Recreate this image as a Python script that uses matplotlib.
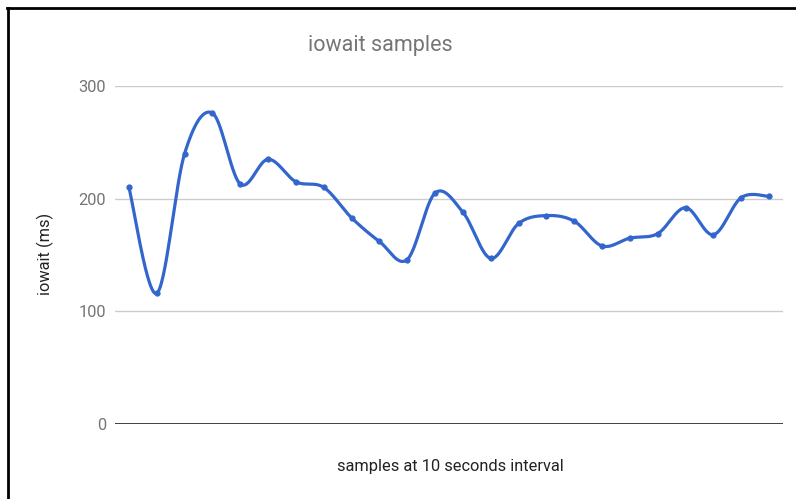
import numpy as np
import matplotlib
matplotlib.use("Agg")
import matplotlib.pyplot as plt
from matplotlib.lines import Line2D

plt.rcParams['font.family'] = ['Roboto', 'DejaVu Sans']

# data
values = [210, 116, 240, 276, 213, 235, 215, 210, 183, 162, 146, 205,
          188, 147, 178, 185, 180, 158, 165, 169, 192, 168, 201, 202]
yticks = [0, 100, 200, 300]
title = "iowait samples"
xlabel = "samples at 10 seconds interval"
ylabel = "iowait (ms)"

x = np.arange(len(values), dtype=float)
y = np.array(values, dtype=float)

def catmull_rom(xs, ys, n=30, tension=0.5):
    px = np.concatenate([[xs[0]], xs, [xs[-1]]])
    py = np.concatenate([[ys[0]], ys, [ys[-1]]])
    ox, oy = [], []
    for i in range(1, len(px) - 2):
        t = np.linspace(0, 1, n, endpoint=False)
        p0, p1, p2, p3 = py[i-1], py[i], py[i+1], py[i+2]
        q0, q1, q2, q3 = px[i-1], px[i], px[i+1], px[i+2]
        m1y = tension * (p2 - p0); m2y = tension * (p3 - p1)
        m1x = tension * (q2 - q0); m2x = tension * (q3 - q1)
        h00 = 2*t**3 - 3*t**2 + 1
        h10 = t**3 - 2*t**2 + t
        h01 = -2*t**3 + 3*t**2
        h11 = t**3 - t**2
        ox.append(h00*q1 + h10*m1x + h01*q2 + h11*m2x)
        oy.append(h00*p1 + h10*m1y + h01*p2 + h11*m2y)
    ox.append([xs[-1]]); oy.append([ys[-1]])
    return np.concatenate(ox), np.concatenate(oy)

sx, sy = catmull_rom(x, y)

fig = plt.figure(figsize=(7.96, 4.99), dpi=100)
ax = fig.add_axes([115/796, 1 - 424/499, 668/796, 338/499])

ax.set_xlim(-0.5, len(values) - 0.5)
ax.set_ylim(0, 300)
ax.set_yticks(yticks)
ax.set_yticklabels([str(v) for v in yticks])
ax.set_xticks([])
ax.grid(axis='y', color='#cccccc', linewidth=1)
ax.set_axisbelow(True)
for s in ['top', 'right', 'left', 'bottom']:
    ax.spines[s].set_visible(False)
ax.axhline(0, color='#333333', linewidth=1.3, zorder=2)
ax.tick_params(axis='y', length=0, pad=6.5, labelsize=11.8, labelcolor='#757575')

ax.plot(sx, sy, color='#3366cc', linewidth=2.3, solid_capstyle='round', zorder=3)
ax.plot(x, y, 'o', color='#3366cc', markersize=3.5, zorder=4)

fig.text(380/796, 1 - 46/499, title, ha='center', va='center',
         fontsize=15.5, color='#757575')
fig.text(450/796, 1 - 466/499, xlabel, ha='center', va='center',
         fontsize=11.8, color='#222222')
fig.text(45/796, 1 - 254/499, ylabel, ha='center', va='center',
         rotation=90, fontsize=11.8, color='#222222')

# figure border (left and top)
fig.add_artist(Line2D([8/796, 8/796], [0, 1 - 7.5/499], color='black',
                      linewidth=2, transform=fig.transFigure))
fig.add_artist(Line2D([7/796, 1], [1 - 7.5/499, 1 - 7.5/499], color='black',
                      linewidth=2, transform=fig.transFigure))

fig.savefig("out.png", dpi=100)
